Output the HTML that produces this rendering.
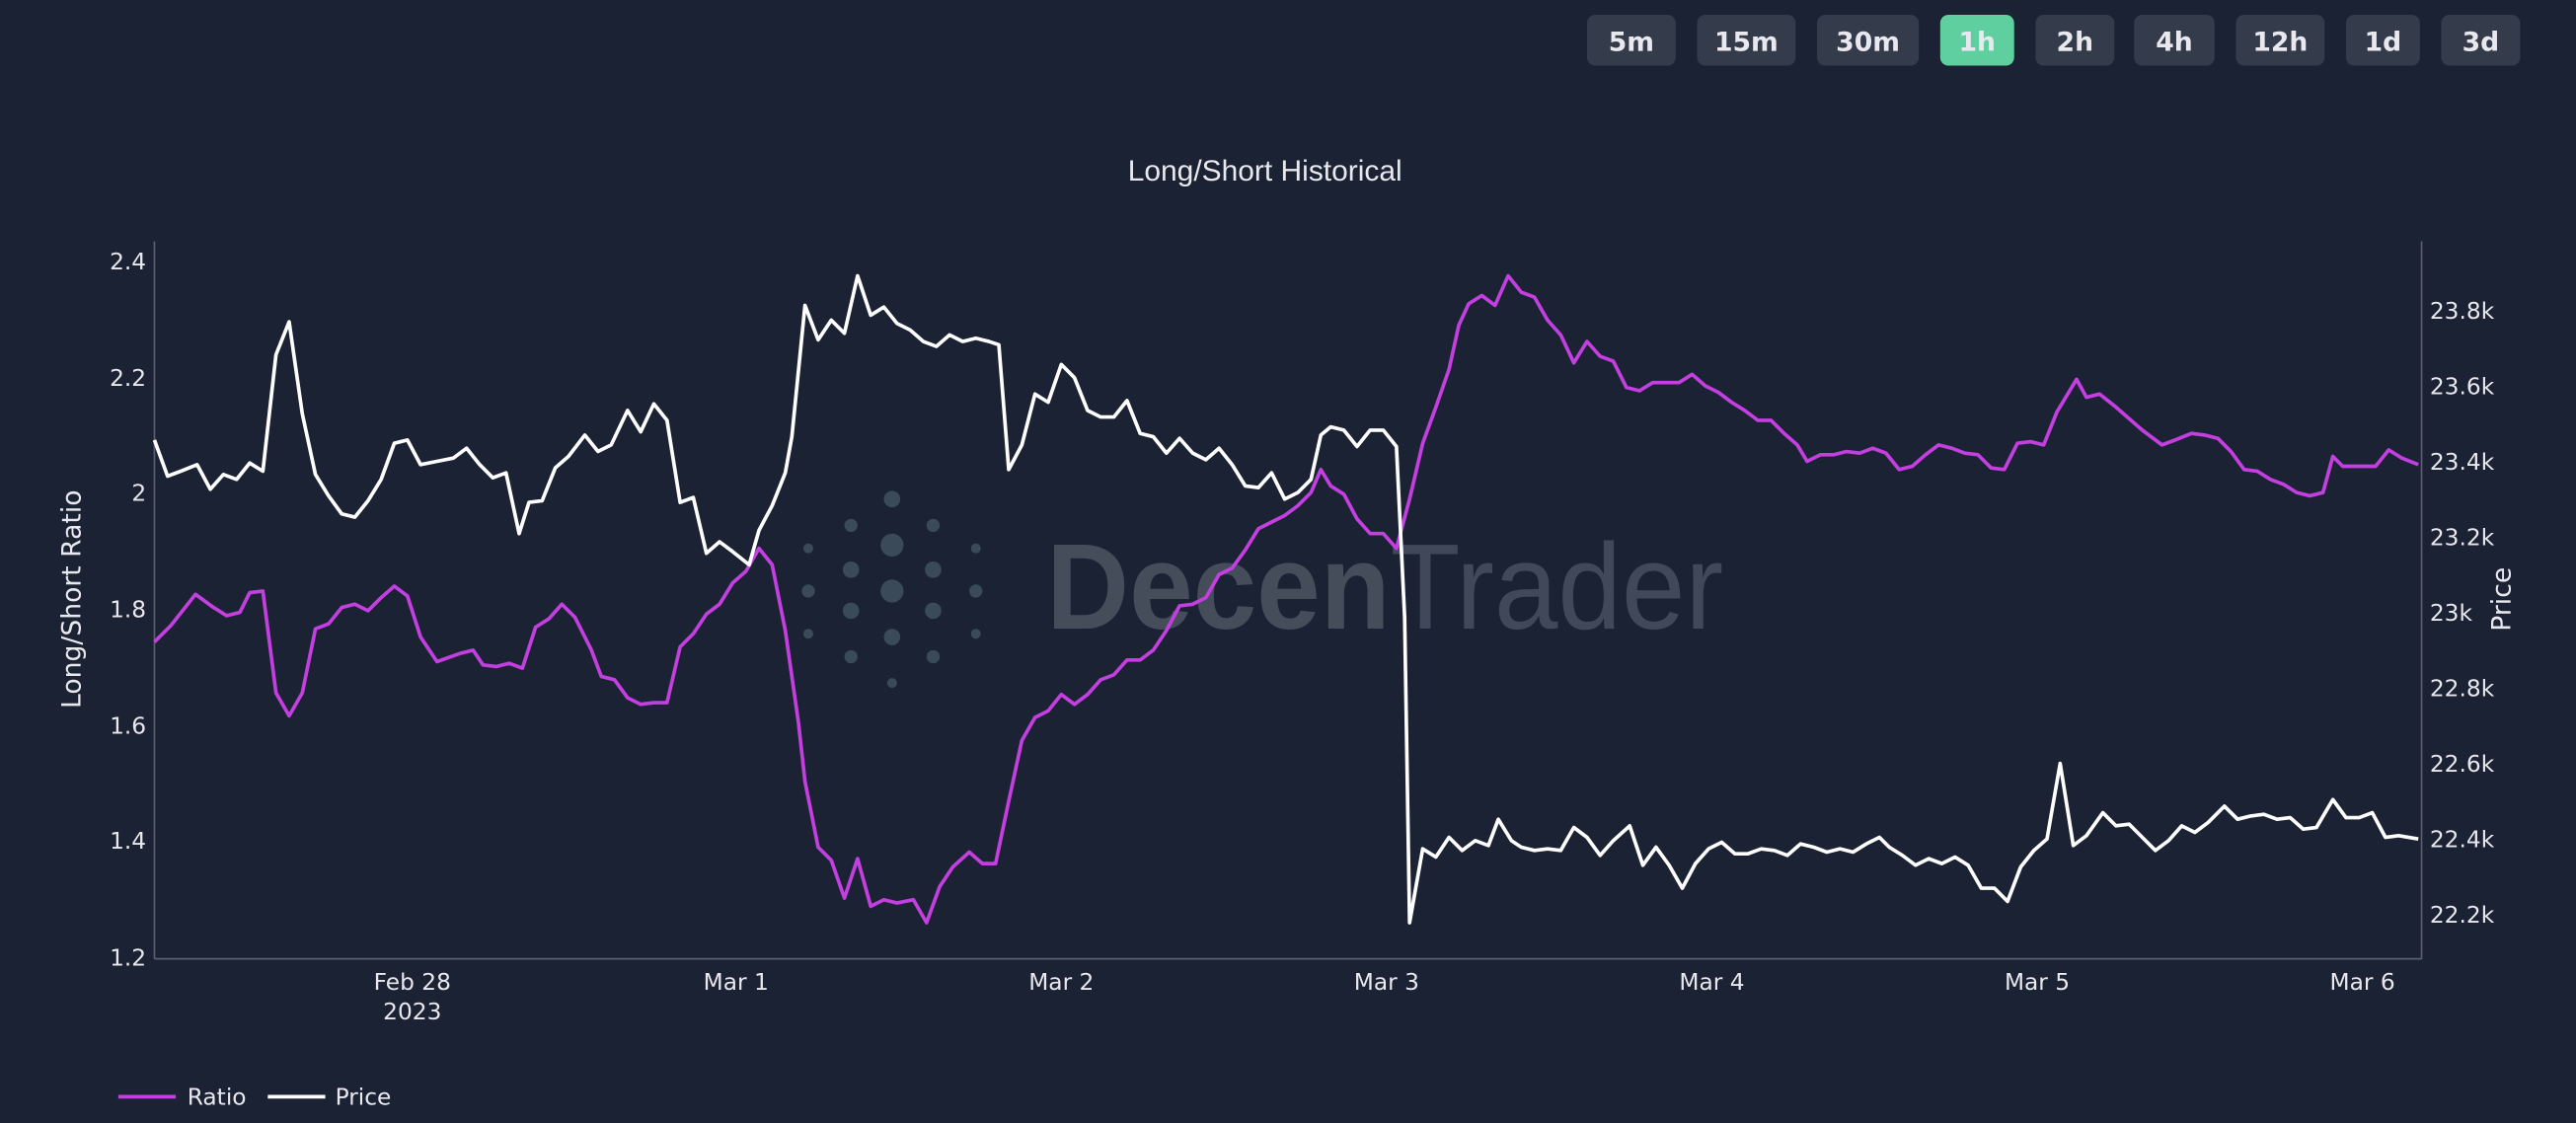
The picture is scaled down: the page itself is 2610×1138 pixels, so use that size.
<!DOCTYPE html>
<html><head><meta charset="utf-8"><style>
html,body{margin:0;padding:0;background:#1b2233;}
svg{display:block;}
text{font-family:"DejaVu Sans","Liberation Sans",sans-serif;fill:#e8e8ee;}
</style></head><body>
<svg width="2610" height="1138" viewBox="0 0 1568 684" preserveAspectRatio="none" xmlns="http://www.w3.org/2000/svg">
<rect width="1568" height="684" fill="#1b2233"/>
<g font-size="16" text-anchor="middle" font-weight="bold">
<rect x="966" y="9" width="54" height="31" rx="5" fill="#343b4b"/><text x="993" y="31">5m</text>
<rect x="1033" y="9" width="60" height="31" rx="5" fill="#343b4b"/><text x="1063" y="31">15m</text>
<rect x="1106" y="9" width="62" height="31" rx="5" fill="#343b4b"/><text x="1137" y="31">30m</text>
<rect x="1181" y="9" width="45" height="31" rx="5" fill="#5fcfa0"/><text x="1203.5" y="31">1h</text>
<rect x="1239" y="9" width="48" height="31" rx="5" fill="#343b4b"/><text x="1263" y="31">2h</text>
<rect x="1299" y="9" width="49" height="31" rx="5" fill="#343b4b"/><text x="1323.5" y="31">4h</text>
<rect x="1361" y="9" width="54" height="31" rx="5" fill="#343b4b"/><text x="1388" y="31">12h</text>
<rect x="1428" y="9" width="45" height="31" rx="5" fill="#343b4b"/><text x="1450.5" y="31">1d</text>
<rect x="1486" y="9" width="48" height="31" rx="5" fill="#343b4b"/><text x="1510" y="31">3d</text>
</g>
<text x="770" y="110" font-size="18" text-anchor="middle" style="font-family:'Liberation Sans',sans-serif">Long/Short Historical</text>
<!-- watermark -->
<g fill="#3a4a58">
<circle cx="543" cy="332" r="7"/><circle cx="543" cy="360" r="7"/><circle cx="543" cy="388" r="5"/>
<circle cx="518" cy="347" r="5"/><circle cx="568" cy="347" r="5"/><circle cx="518" cy="372" r="5"/><circle cx="568" cy="372" r="5"/>
<circle cx="543" cy="304" r="5"/><circle cx="543" cy="416" r="3"/><circle cx="492" cy="334" r="3"/><circle cx="594" cy="334" r="3"/><circle cx="492" cy="386" r="3"/><circle cx="594" cy="386" r="3"/>
<circle cx="518" cy="320" r="4"/><circle cx="568" cy="320" r="4"/><circle cx="518" cy="400" r="4"/><circle cx="568" cy="400" r="4"/><circle cx="492" cy="360" r="4"/><circle cx="594" cy="360" r="4"/>
</g>
<text x="637" y="383" font-size="74" font-weight="bold" textLength="412" lengthAdjust="spacingAndGlyphs" style="fill:#454c5a;font-family:'Liberation Sans',sans-serif">Decen<tspan font-weight="normal" style="fill:#41485a">Trader</tspan></text>
<!-- axes -->
<line x1="94" y1="147" x2="94" y2="584" stroke="#5a6070" stroke-width="1"/>
<line x1="1474" y1="147" x2="1474" y2="584" stroke="#5a6070" stroke-width="1"/>
<line x1="94" y1="584" x2="1474" y2="584" stroke="#5a6070" stroke-width="1"/>
<g font-size="14" text-anchor="end">
<text x="89" y="164">2.4</text><text x="89" y="235">2.2</text><text x="89" y="305">2</text><text x="89" y="376">1.8</text><text x="89" y="447">1.6</text><text x="89" y="517">1.4</text><text x="89" y="588">1.2</text>
</g>
<g font-size="14" text-anchor="start">
<text x="1479" y="194">23.8k</text><text x="1479" y="240">23.6k</text><text x="1479" y="286">23.4k</text><text x="1479" y="332">23.2k</text><text x="1479" y="378">23k</text><text x="1479" y="424">22.8k</text><text x="1479" y="470">22.6k</text><text x="1479" y="516">22.4k</text><text x="1479" y="562">22.2k</text>
</g>
<g font-size="14" text-anchor="middle">
<text x="251" y="603">Feb 28</text><text x="251" y="621">2023</text>
<text x="448" y="603">Mar 1</text><text x="646" y="603">Mar 2</text><text x="844" y="603">Mar 3</text><text x="1042" y="603">Mar 4</text><text x="1240" y="603">Mar 5</text><text x="1438" y="603">Mar 6</text>
</g>
<text transform="translate(49,365) rotate(-90)" font-size="16" text-anchor="middle">Long/Short Ratio</text>
<text transform="translate(1528,365) rotate(-90)" font-size="16" text-anchor="middle">Price</text>
<polyline fill="none" stroke="#c43fe0" stroke-width="2.2" stroke-linejoin="round" points="94,391 104,381 119,362 130,370 138,375 146,373 152,361 160,360 168,422 176,436 184,422 192,383 200,380 208,370 216,368 224,372 232,364 240,357 248,363 256,388 266,403 280,398 288,396 294,405 302,406 310,404 318,407 326,382 334,377 342,368 350,376 360,396 366,412 374,414 382,425 390,429 398,428 406,428 414,394 422,386 430,374 438,368 446,355 454,348 462,334 470,344 478,384 486,440 490,476 498,516 506,524 514,547 522,523 530,552 538,548 546,550 556,548 564,562 572,540 580,528 590,519 598,526 606,526 614,488 622,451 630,437 638,433 646,423 654,429 662,423 670,414 678,411 686,402 694,402 702,396 710,384 718,369 726,368 734,364 742,350 750,346 758,335 766,322 774,318 782,314 790,308 798,300 804,286 810,296 818,301 826,316 834,325 842,325 850,334 858,304 866,270 874,248 882,225 888,198 894,185 902,180 910,186 918,168 926,178 934,181 942,195 950,204 958,221 966,208 974,217 982,220 990,236 998,238 1006,233 1014,233 1022,233 1030,228 1038,235 1046,239 1054,245 1062,250 1070,256 1078,256 1086,264 1094,271 1100,281 1108,277 1116,277 1124,275 1132,276 1140,273 1148,276 1156,286 1164,284 1172,277 1180,271 1188,273 1196,276 1204,277 1212,285 1220,286 1228,270 1236,269 1244,271 1252,251 1264,231 1270,242 1278,240 1288,248 1296,255 1304,262 1316,271 1324,268 1334,264 1342,265 1350,267 1358,275 1366,286 1374,287 1382,292 1390,295 1398,300 1406,302 1414,300 1420,278 1426,284 1432,284 1446,284 1454,274 1462,279 1472,283"/>
<polyline fill="none" stroke="#ffffff" stroke-width="2.2" stroke-linejoin="round" points="94,268 102,290 110,287 120,283 128,298 136,289 144,292 152,282 160,287 168,216 176,196 184,252 192,289 200,302 208,313 216,315 224,305 232,292 240,270 248,268 256,283 266,281 276,279 284,273 292,283 300,291 308,288 316,325 322,306 330,305 338,285 346,278 356,265 364,275 372,271 382,250 390,263 398,246 406,256 414,306 422,303 430,337 438,330 446,336 456,344 462,323 470,308 478,288 482,266 490,186 498,207 506,195 514,203 522,168 530,192 538,187 546,197 554,201 562,208 570,211 578,204 586,208 594,206 602,208 608,210 614,286 622,271 630,240 638,245 646,222 654,230 662,250 670,254 678,254 686,244 694,264 702,266 710,276 718,267 726,276 734,280 742,273 750,283 758,296 766,297 774,288 782,304 790,300 798,292 804,265 810,260 818,262 826,272 834,262 842,262 850,272 855,376 858,562 866,517 874,522 882,510 890,518 898,512 906,515 912,499 920,512 926,516 934,518 942,517 950,518 958,504 966,510 974,521 982,512 992,503 1000,527 1008,516 1016,527 1024,541 1032,526 1040,517 1048,513 1056,520 1064,520 1072,517 1080,518 1088,521 1096,514 1104,516 1112,519 1120,517 1128,519 1136,514 1144,510 1150,516 1158,521 1166,527 1174,523 1182,526 1190,522 1198,527 1206,541 1214,541 1222,549 1230,528 1238,518 1246,511 1254,465 1262,515 1270,509 1280,495 1288,503 1296,502 1304,510 1312,518 1320,512 1328,503 1336,507 1344,501 1354,491 1362,499 1370,497 1378,496 1386,499 1394,498 1402,505 1410,504 1420,487 1428,498 1436,498 1444,495 1452,510 1460,509 1472,511"/>
<line x1="72" y1="668" x2="107" y2="668" stroke="#c43fe0" stroke-width="2.2"/>
<text x="114" y="673" font-size="14">Ratio</text>
<line x1="163" y1="668" x2="198" y2="668" stroke="#ffffff" stroke-width="2.2"/>
<text x="204" y="673" font-size="14">Price</text>
</svg>
</body></html>
